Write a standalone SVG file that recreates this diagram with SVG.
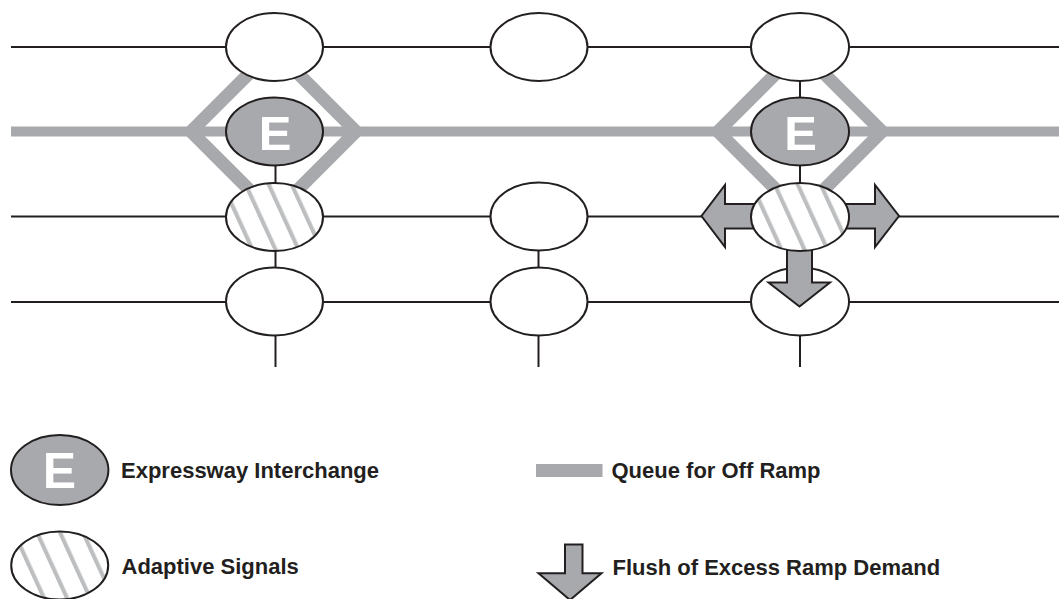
<svg xmlns="http://www.w3.org/2000/svg" width="1059" height="599" viewBox="0 0 1059 599">
  <style>
    .road { stroke: #231f20; stroke-width: 2; fill: none; }
    .queue { stroke: #a7a9ac; fill: none; }
    .node { fill: #ffffff; stroke: #231f20; stroke-width: 2; }
    .expr { fill: #a7a9ac; stroke: #231f20; stroke-width: 2; }
    .adapt { fill: url(#hatch); stroke: #231f20; stroke-width: 2; }
    .arrow { fill: #a7a9ac; stroke: #231f20; stroke-width: 2; stroke-linejoin: miter; }
    .elabel { font-family: "Liberation Sans", Arial, sans-serif; font-weight: bold; fill: #ffffff; text-anchor: middle; }
    .legend { font-family: "Liberation Sans", Arial, sans-serif; font-weight: bold; font-size: 22px; fill: #231f20; }
  </style>
  <defs>
    <pattern id="hatch" patternUnits="userSpaceOnUse" width="23" height="20" patternTransform="skewX(24.6)">
      <rect x="0" y="0" width="23" height="20" fill="#ffffff"/>
      <rect x="-2" y="0" width="4.5" height="20" fill="#bcbec0"/>
      <rect x="21" y="0" width="4.5" height="20" fill="#bcbec0"/>
    </pattern>
  </defs>

  <rect width="1059" height="599" fill="#ffffff"/>

  <!-- queue for off ramp: corridor and interchange diamonds -->
  <g id="queue">
    <line class="queue" x1="11" y1="131.5" x2="1059" y2="131.5" stroke-width="10"/>
    <polygon class="queue" stroke-width="13" points="191,131.5 273.5,49 356,131.5 273.5,214"/>
    <polygon class="queue" stroke-width="13" points="718,131.5 800,49.5 882,131.5 800,213.5"/>
  </g>

  <!-- roads and cross-street connectors -->
  <g id="connectors">
    <line class="road" x1="11" y1="47" x2="1059" y2="47"/>
    <line class="road" x1="11" y1="216.5" x2="1059" y2="216.5"/>
    <line class="road" x1="11" y1="302" x2="1059" y2="302"/>
    <line class="road" x1="275.5" y1="165" x2="275.5" y2="184"/>
    <line class="road" x1="275.5" y1="250" x2="275.5" y2="268"/>
    <line class="road" x1="275.5" y1="335" x2="275.5" y2="367"/>
    <line class="road" x1="538.5" y1="250" x2="538.5" y2="268"/>
    <line class="road" x1="538.5" y1="335" x2="538.5" y2="367"/>
    <line class="road" x1="800" y1="80" x2="800" y2="98"/>
    <line class="road" x1="800" y1="165" x2="800" y2="184"/>
    <line class="road" x1="800" y1="335" x2="800" y2="367"/>
  </g>

  <!-- top row -->
  <g id="n-top-left"><ellipse class="node" cx="274.5" cy="47" rx="48.5" ry="34"/></g>
  <g id="n-top-mid"><ellipse class="node" cx="539" cy="47" rx="48.5" ry="34"/></g>
  <g id="n-top-right"><ellipse class="node" cx="800" cy="47" rx="49" ry="34"/></g>

  <!-- expressway interchanges -->
  <g id="n-expr-left">
    <ellipse class="expr" cx="274.5" cy="131.5" rx="48.5" ry="34"/>
    <text class="elabel" x="275" y="150" font-size="49">E</text>
  </g>
  <g id="n-expr-right">
    <ellipse class="expr" cx="800" cy="131.5" rx="49" ry="34"/>
    <text class="elabel" x="800.5" y="150" font-size="49">E</text>
  </g>

  <!-- bottom row -->
  <g id="n-bottom-left"><ellipse class="node" cx="274.5" cy="301.5" rx="48.5" ry="34"/></g>
  <g id="n-bottom-mid"><ellipse class="node" cx="539" cy="301.5" rx="48.5" ry="34"/></g>
  <g id="n-bottom-right"><ellipse class="node" cx="800" cy="301.5" rx="49" ry="34"/></g>

  <!-- flush of excess ramp demand -->
  <g id="flush-arrows">
    <polygon class="arrow" points="760,204 725,204 725,185 701.5,216 725,247 725,228.5 760,228.5"/>
    <polygon class="arrow" points="840,204 875,204 875,185 899,216 875,247 875,228.5 840,228.5"/>
    <polygon class="arrow" points="787,240 812,240 812,282.5 830,282.5 799.5,306.5 768.5,282.5 787,282.5"/>
  </g>

  <!-- middle row -->
  <g id="n-mid-left"><ellipse class="node" cx="539" cy="216.5" rx="48.5" ry="34"/></g>
  <g id="n-adapt-left"><ellipse class="adapt" cx="274.5" cy="217" rx="48.5" ry="34"/></g>
  <g id="n-adapt-right"><ellipse class="adapt" cx="800" cy="217" rx="49" ry="34"/></g>

  <!-- legend -->
  <g id="legend-expr">
    <ellipse class="expr" cx="59.7" cy="470" rx="48.7" ry="35"/>
    <text class="elabel" x="59.5" y="488.3" font-size="50">E</text>
    <text class="legend" x="121" y="478.3">Expressway Interchange</text>
  </g>
  <g id="legend-adapt">
    <ellipse class="adapt" cx="59.7" cy="565.5" rx="48.5" ry="34"/>
    <text class="legend" x="121.5" y="574.3">Adaptive Signals</text>
  </g>
  <g id="legend-queue">
    <rect x="536" y="464" width="66.5" height="13" fill="#a7a9ac"/>
    <text class="legend" x="611.5" y="478.3">Queue for Off Ramp</text>
  </g>
  <g id="legend-flush">
    <polygon class="arrow" points="565,544.5 582.5,544.5 582.5,573.3 601.5,573.3 570,600 538.5,573.3 565,573.3"/>
    <text class="legend" x="612.5" y="575">Flush of Excess Ramp Demand</text>
  </g>
</svg>
